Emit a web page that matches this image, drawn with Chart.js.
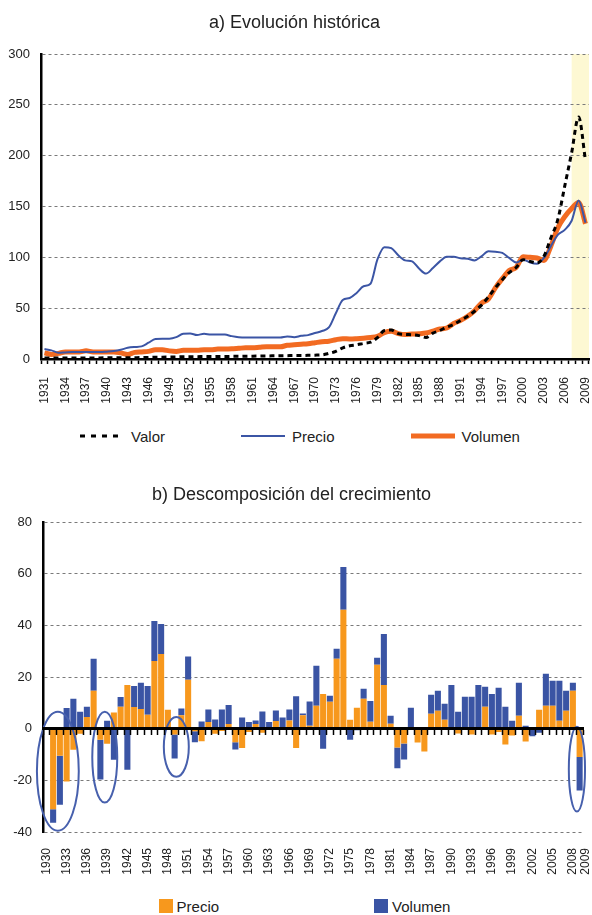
<!DOCTYPE html>
<html lang="es">
<head>
<meta charset="utf-8">
<title>Evolución histórica y descomposición del crecimiento</title>
<script src="https://cdn.jsdelivr.net/npm/chart.js@4.4.1/dist/chart.umd.min.js"></script>
<style>
    body { margin: 0; background: #fff; font-family: "Liberation Sans", Arial, sans-serif; color: #222; }
    #page { position: relative; width: 592px; height: 915px; overflow: hidden; }
    .box { position: absolute; left: 0; width: 592px; }
    .legend { position: absolute; left: 0; width: 592px; height: 20px; box-sizing: border-box;
              display: flex; justify-content: center; align-items: center; font-size: 15px; }
    .legend .item { display: flex; align-items: center; white-space: nowrap; }
</style>
</head>
<body>
<div id="page">
    <div class="box" style="top:0;height:409px"><canvas id="historyChart"></canvas></div>
    <div class="legend" id="historyLegend" style="top:426px;padding-left:8px;column-gap:76px"></div>
    <div class="box" style="top:470px;height:412px"><canvas id="growthChart"></canvas></div>
    <div class="legend" id="growthLegend" style="top:896px;padding-left:17px;column-gap:155px"></div>
</div>
<script>
// a) Evolución histórica (1931-2009)
const years = Array.from({ length: 79 }, (_, i) => String(1931 + i));

const valor = [
    1.0, 1.0, 0.9, 0.9, 1.0, 1.0, 1.1, 1.1, 1.1, 1.2,
    1.3, 1.3, 1.2, 1.3, 1.4, 1.6, 1.8, 1.8, 1.9, 2.0,
    2.2, 2.3, 2.3, 2.4, 2.4, 2.5, 2.5, 2.6, 2.6, 2.7,
    2.8, 2.9, 3.0, 3.1, 3.2, 3.3, 3.5, 3.5, 3.6, 3.8,
    4.0, 5.5, 7.5, 11, 13, 14, 15.3, 16.5, 21, 28,
    28.5, 25, 24.2, 23.8, 23, 21.2, 25.5, 28, 31.5, 34,
    38, 42, 47, 53, 61, 70, 78, 85, 90, 97.7,
    96, 94.4, 101, 119, 137, 170, 203, 238, 195
];

const precio = [
    9.8, 8.5, 6.2, 6.5, 6.8, 7.0, 7.0, 6.8, 6.8, 7.2,
    7.8, 9.1, 11, 11.8, 12.4, 16, 19.7, 20, 20, 21.5,
    24.9, 25.2, 23.6, 24.8, 24, 24.2, 24, 22.5, 21.5, 21.2,
    21.2, 21.2, 21.2, 21.2, 21.2, 22.2, 21.5, 22.8, 23.5, 25.5,
    27.5, 31, 45, 58, 60, 65, 71.5, 74, 98, 110,
    109, 102, 97, 96, 89, 84, 89.5, 96, 100.5, 100.5,
    99, 98.5, 97, 101, 106, 105.5, 104.3, 99.4, 95, 97.7,
    95, 93.8, 99.4, 111, 122, 127, 136, 156, 134
];

const volumen = [
    6, 4.5, 5.5, 7, 7, 7, 8, 7, 7, 7,
    7, 6, 4.5, 6.5, 7, 7.5, 9, 9, 8, 7.5,
    8.5, 8.5, 8.5, 9, 9, 9.8, 9.8, 10, 10.5, 11,
    11, 11.5, 12, 12, 12, 13.5, 14, 14.5, 15, 16,
    17, 17.5, 19, 20, 19.7, 20, 20.5, 21.2, 22.2, 26,
    27.2, 25, 24, 24.5, 24.8, 25.5, 27.5, 29.5, 30.5, 35,
    38, 42, 47.5, 55, 59, 70, 79, 87, 90, 100.5,
    100, 99.4, 97, 111, 129, 140, 148, 154, 133
];

const shadedFrom = '2007';

// b) Descomposición del crecimiento (1930-2009, no value for 1930)
const growthYears = Array.from({ length: 80 }, (_, i) => String(1930 + i));

const precioGrowth = [
    null, -31.2, -10.5, -20.4, -8.1, -1.9, 4.6, 14.7, -4.3, -5.8,
    6.3, 8.5, 17, 8.4, 7.7, 5.4, 26.3, 29, 7.4, -2.2,
    5.2, 19, -1, -4.8, 2.6, -1.9, -0.9, 1.8, -5.2, -7.5,
    -1.3, 1.8, -1.5, -0.5, 3, 0, 3.2, -7.5, 5.2, 1.2,
    8.9, 13.5, 10.5, 27.1, 46.1, 3.5, 8.1, 11.6, 2.7, 24.8,
    17, 1.9, -7.3, -5.7, 0, -5.3, -8.8, 5.8, 7, 3.5,
    0, -1.8, 0, -2.2, 0, 8.5, -2.2, -1.3, -6.1, -2.6,
    5, -4.9, 0, 7.4, 8.9, 8.9, 3.1, 7, 14.7, -10.9
];

const volumenGrowth = [
    null, -5.2, -18.9, 8, 11.6, 6.6, 3.9, 12.4, -15.4, 3.1,
    -12, 3.8, -15.9, 8.2, 10.1, 11.2, 15.5, 11.6, 0, -9.3,
    2.7, 9, -4.2, 2.8, 4.9, 3.6, 7.5, 7.4, -2.8, 4.4,
    2.6, 1.4, 6.7, 2.6, 4.1, 4.4, 4.3, 12.6, 0.7, 9.4,
    15.5, -7.7, 2.3, 3.9, 16.6, -4.3, -0.6, 3.9, 8.1, 2.7,
    19.7, 3.1, -8, -6.2, 8.1, 0, 0, 7.4, 7.7, 6.2,
    17, 6.6, 12.4, 12.4, 17, 7.8, 13.5, 15.9, 8.5, 3.1,
    12.8, 1.2, -2.9, -1.5, 12.4, 9.7, 15.5, 7.7, 3.1, -13
];

// tick label positions on the year axis (index from 1930); the last one sits at the right edge
const growthTickPositions = [0, 3, 6, 9, 12, 15, 18, 21, 24, 27, 30, 33, 36, 39, 42, 45, 48, 51, 54,
    57, 60, 63, 66, 69, 72, 75, 78, 79.9];

// circled episodes: year span and value span
const circledYears = [[1928.6, 1934.8], [1936.8, 1940.5], [1947.4, 1951.1], [2007.4, 2009.8]];
const circledValues = [[-39.5, 6.6], [-28.6, 6.6], [-18.6, 4.6], [-32.1, 0.8]];

const COLORS = {
    valor: '#000000',
    precio: '#3b55a5',
    volumen: '#f26b22',
    precioBar: '#f7981d',
    volumenBar: '#3a54a4',
    circle: '#4760ad',
    shade: '#fdf8d3',
    grid: '#7a7a7a',
    text: '#222222'
};

Chart.defaults.font.family = '"Liberation Sans", Arial, Helvetica, sans-serif';
Chart.defaults.color = COLORS.text;

// fixed axis sizes so both plot areas land where the original has them
const fixWidth = w => scale => { scale.width = w; };
const fixHeight = h => scale => { scale.height = h; scale.paddingLeft = 0; scale.paddingRight = 0; };

const shadePlugin = {
    id: 'shade',
    beforeDraw(chart) {
        const { ctx, chartArea, scales: { x } } = chart;
        const left = x.getPixelForValue(years.indexOf(shadedFrom));
        ctx.save();
        ctx.fillStyle = COLORS.shade;
        ctx.fillRect(left, chartArea.top, chartArea.right - left, chartArea.bottom - chartArea.top);
        ctx.restore();
    }
};

const circlePlugin = {
    id: 'circles',
    afterDatasetsDraw(chart) {
        const { ctx, scales: { x, y } } = chart;
        const first = Number(growthYears[0]);
        ctx.save();
        ctx.strokeStyle = COLORS.circle;
        ctx.lineWidth = 2;
        circledYears.forEach((span, i) => {
            const x1 = x.getPixelForValue(span[0] - first);
            const x2 = x.getPixelForValue(span[1] - first);
            const y1 = y.getPixelForValue(circledValues[i][1]);
            const y2 = y.getPixelForValue(circledValues[i][0]);
            ctx.beginPath();
            ctx.ellipse((x1 + x2) / 2, (y1 + y2) / 2, (x2 - x1) / 2, (y2 - y1) / 2, 0, 0, Math.PI * 2);
            ctx.stroke();
        });
        ctx.restore();
    }
};

const tickMarks = {
    drawOnChartArea: false,
    offset: true,
    tickLength: 5,
    tickWidth: 1.5,
    tickColor: '#000'
};

const historyChart = new Chart(document.getElementById('historyChart'), {
    type: 'line',
    data: {
        labels: years,
        datasets: [
            { label: 'Valor', data: valor, borderColor: COLORS.valor, borderWidth: 3, borderDash: [5, 4] },
            { label: 'Precio', data: precio, borderColor: COLORS.precio, borderWidth: 2 },
            { label: 'Volumen', data: volumen, borderColor: COLORS.volumen, borderWidth: 5 }
        ]
    },
    options: {
        responsive: true,
        maintainAspectRatio: false,
        animation: false,
        layout: { padding: { left: 0, right: 3, top: 0, bottom: 0 } },
        elements: {
            point: { radius: 0 },
            line: { cubicInterpolationMode: 'monotone', fill: false }
        },
        plugins: {
            legend: { display: false },
            tooltip: { enabled: false },
            title: {
                display: true,
                text: 'a) Evolución histórica',
                color: COLORS.text,
                font: { size: 18, weight: 'normal' },
                padding: { top: 12, bottom: 20.4 }
            }
        },
        scales: {
            x: {
                offset: true,
                grid: tickMarks,
                border: { color: '#000', width: 2.5 },
                ticks: {
                    autoSkip: false, minRotation: 90, maxRotation: 90, padding: 13,
                    font: { size: 12 },
                    callback: (v, i) => i % 3 === 0 ? years[i] : ''
                },
                afterFit: fixHeight(50)
            },
            y: {
                min: 0,
                max: 300,
                ticks: { stepSize: 50, padding: 11, font: { size: 13 } },
                grid: { color: COLORS.grid, drawTicks: false },
                border: { color: '#000', width: 2.5, dash: [3, 3] },
                afterFit: fixWidth(41)
            }
        }
    },
    plugins: [shadePlugin]
});

const growthChart = new Chart(document.getElementById('growthChart'), {
    type: 'bar',
    data: {
        labels: growthYears,
        datasets: [
            { label: 'Precio', data: precioGrowth, backgroundColor: COLORS.precioBar },
            { label: 'Volumen', data: volumenGrowth, backgroundColor: COLORS.volumenBar }
        ]
    },
    options: {
        responsive: true,
        maintainAspectRatio: false,
        animation: false,
        layout: { padding: { left: 0, right: 9, top: 0, bottom: 0 } },
        datasets: { bar: { categoryPercentage: 1, barPercentage: 0.9 } },
        plugins: {
            legend: { display: false },
            tooltip: { enabled: false },
            title: {
                display: true,
                text: 'b) Descomposición del crecimiento',
                color: COLORS.text,
                font: { size: 18, weight: 'normal' },
                padding: { top: 14.2, bottom: 16.5 }
            }
        },
        scales: {
            // bar categories, drawn on the zero line: only the line and its tick marks
            x: {
                stacked: true,
                position: { y: 0 },
                offset: true,
                grid: { ...tickMarks, z: 1 },
                border: { color: '#000', width: 3, z: 1 },
                ticks: { display: false },
                afterFit: fixHeight(0)
            },
            // year labels under the plot
            years: {
                type: 'linear',
                axis: 'x',
                position: 'bottom',
                offset: false,
                min: -0.5,
                max: growthYears.length - 0.5,
                grid: { display: false, drawTicks: false, offset: false },
                border: { display: false },
                afterBuildTicks: scale => { scale.ticks = growthTickPositions.map(value => ({ value })); },
                ticks: {
                    autoSkip: false, minRotation: 90, maxRotation: 90, padding: 16,
                    font: { size: 12 },
                    callback: v => growthYears[Math.floor(v)]
                },
                afterFit: fixHeight(50)
            },
            y: {
                stacked: true,
                min: -40,
                max: 80,
                ticks: { stepSize: 20, padding: 11, font: { size: 13 } },
                grid: { color: COLORS.grid, drawTicks: false },
                border: { color: '#000', width: 2.5, dash: [3, 3] },
                afterFit: fixWidth(43)
            }
        }
    },
    plugins: [circlePlugin]
});

// HTML legends built from the datasets
function lineLegend(chart, el) {
    chart.data.datasets.forEach(ds => {
        const item = document.createElement('div');
        item.className = 'item';
        const dash = ds.borderDash ? '5 6' : 'none';
        item.innerHTML = `<svg width="44" height="8"><line x1="0" y1="4" x2="44" y2="4" stroke="${ds.borderColor}" stroke-width="${ds.borderWidth}" stroke-dasharray="${dash}"/></svg>` +
            `<span style="margin-left:7px">${ds.label}</span>`;
        el.appendChild(item);
    });
}

function boxLegend(chart, el) {
    chart.data.datasets.forEach(ds => {
        const item = document.createElement('div');
        item.className = 'item';
        item.innerHTML = `<span style="display:inline-block;width:14px;height:14px;background:${ds.backgroundColor}"></span>` +
            `<span style="margin-left:4px">${ds.label}</span>`;
        el.appendChild(item);
    });
}

lineLegend(historyChart, document.getElementById('historyLegend'));
boxLegend(growthChart, document.getElementById('growthLegend'));
</script>
</body>
</html>
